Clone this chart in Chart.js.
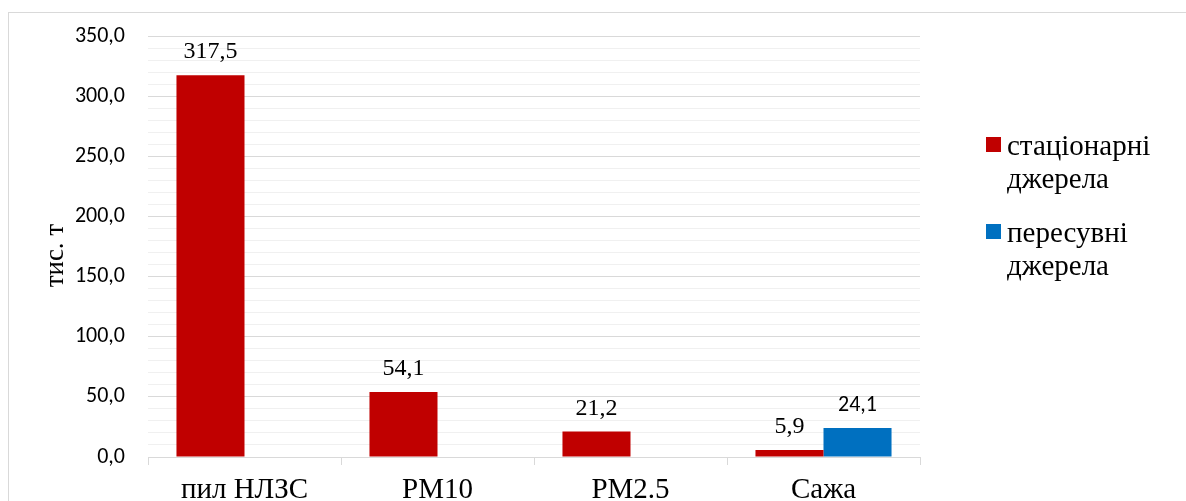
<!DOCTYPE html>
<html>
<head>
<meta charset="utf-8">
<title>Викиди</title>
<script src="https://cdn.jsdelivr.net/npm/chart.js@4.4.1/dist/chart.umd.min.js"></script>
<style>
  html, body { margin: 0; padding: 0; background: #fff; }
  #wrap { width: 1186px; height: 501px; overflow: hidden; }
</style>
</head>
<body>
<div id="wrap"><canvas id="chart" width="1186" height="501"></canvas></div>
<script>
// Дані
const categories = ['пил НЛЗС', 'PM10', 'PM2.5', 'Сажа'];
const stationary = [317.5, 54.1, 21.2, 5.9];
const mobile = [null, null, null, 24.1];
const seriesNames = [['стаціонарні', 'джерела'], ['пересувні', 'джерела']];
const yTitle = 'тис. т';

const serifFont = '"Liberation Serif"';
const sansFont = 'Carlito';

function fmt(v) {
  return v.toFixed(1).replace('.', ',');
}

// Рамка навколо діаграми
const framePlugin = {
  id: 'frame',
  beforeDraw(chart) {
    const ctx = chart.ctx;
    ctx.save();
    ctx.fillStyle = '#fff';
    ctx.fillRect(0, 0, chart.width, chart.height);
    ctx.strokeStyle = '#d9d9d9';
    ctx.lineWidth = 1;
    ctx.strokeRect(8.5, 12.5, chart.width + 10, chart.height + 50);
    ctx.restore();
  }
};

// Назва осі Y (повернута)
const yTitlePlugin = {
  id: 'yTitle',
  afterDraw(chart) {
    const ctx = chart.ctx;
    const area = chart.chartArea;
    ctx.save();
    ctx.translate(63, (area.top + area.bottom) / 2 + 9);
    ctx.rotate(-Math.PI / 2);
    ctx.font = '27px ' + serifFont;
    ctx.fillStyle = '#000';
    ctx.textAlign = 'center';
    ctx.textBaseline = 'alphabetic';
    ctx.fillText(yTitle, 0, 0);
    ctx.restore();
  }
};

// Підписи значень над стовпцями
const valueLabels = {
  id: 'valueLabels',
  afterDatasetsDraw(chart) {
    const ctx = chart.ctx;
    ctx.save();
    ctx.textAlign = 'center';
    ctx.textBaseline = 'alphabetic';
    ctx.fillStyle = '#000';
    chart.data.datasets.forEach((ds, i) => {
      const meta = chart.getDatasetMeta(i);
      meta.data.forEach((bar, j) => {
        const v = ds.data[j];
        if (v === null || v === undefined) return;
        ctx.font = i === 0 ? '24px ' + serifFont : '22px ' + sansFont;
        ctx.fillText(fmt(v), bar.x, bar.y - 17);
      });
    });
    ctx.restore();
  }
};

// Легенда праворуч
const sideLegend = {
  id: 'sideLegend',
  afterDraw(chart) {
    const ctx = chart.ctx;
    ctx.save();
    ctx.font = '29px ' + serifFont;
    ctx.textBaseline = 'alphabetic';
    let y = 155;
    chart.data.datasets.forEach((ds) => {
      ctx.fillStyle = ds.backgroundColor;
      ctx.fillRect(986, y - 18, 15, 15);
      ctx.fillStyle = '#000';
      ds.label.forEach((line, k) => {
        ctx.fillText(line, 1007, y + k * 33);
      });
      y += 87;
    });
    ctx.restore();
  }
};

function draw() {
  new Chart(document.getElementById('chart'), {
    type: 'bar',
    data: {
      labels: categories,
      datasets: [{
        label: seriesNames[0],
        data: stationary,
        backgroundColor: '#c00000'
      }, {
        label: seriesNames[1],
        data: mobile,
        backgroundColor: '#0070c0'
      }]
    },
    options: {
      responsive: false,
      animation: false,
      events: [],
      categoryPercentage: 0.705,
      barPercentage: 1,
      layout: { padding: { left: 0, top: 33, right: 266, bottom: 0 } },
      plugins: {
        legend: { display: false },
        tooltip: { enabled: false }
      },
      scales: {
        x: {
          afterFit(scale) { scale.height = 44; },
          grid: {
            offset: true,
            drawOnChartArea: false,
            drawTicks: true,
            tickLength: 8,
            color: '#d9d9d9'
          },
          border: { display: true, color: '#d9d9d9', width: 1 },
          ticks: {
            padding: 8,
            color: '#000',
            font: { family: serifFont, size: 29 },
            maxRotation: 0
          }
        },
        y: {
          min: 0,
          max: 350,
          afterFit(scale) { scale.width = 148; },
          border: { display: false },
          grid: {
            drawTicks: false,
            color: (c) => (c.tick && c.tick.value % 50 === 0) ? '#d9d9d9' : '#f0f0f0',
            lineWidth: 1
          },
          ticks: {
            stepSize: 10,
            padding: 23,
            autoSkip: false,
            color: '#000',
            font: { family: sansFont, size: 22 },
            callback: (v) => (v % 50 === 0 ? fmt(v) : '')
          }
        }
      }
    },
    plugins: [framePlugin, valueLabels, sideLegend, yTitlePlugin]
  });
}

Promise.all([
  document.fonts.load('28px "Liberation Serif"', 'пил НЛЗС'),
  document.fonts.load('22px Carlito', '350,0')
]).then(draw, draw);
</script>
</body>
</html>
